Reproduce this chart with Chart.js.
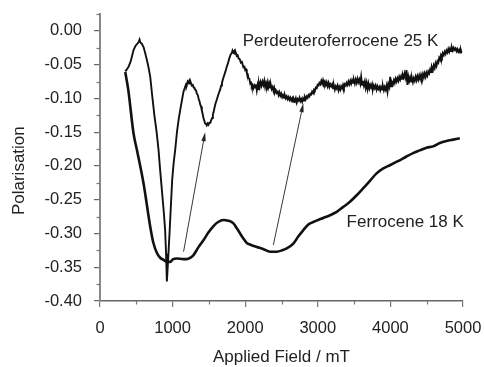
<!DOCTYPE html>
<html>
<head>
<meta charset="utf-8">
<script src="https://cdn.jsdelivr.net/npm/chart.js@4.4.1/dist/chart.umd.min.js"></script>
<style>
  html, body { margin: 0; padding: 0; background: #fff; }
  #wrap { width: 485px; height: 367px; position: relative; }
</style>
</head>
<body>
<div id="wrap"><canvas id="c" width="485" height="367"></canvas></div>
<script>
// Axis tick values
const xTickValues = [0, 1000, 2000, 3000, 4000, 5000];
const yTickValues = [-0.40, -0.35, -0.30, -0.25, -0.20, -0.15, -0.10, -0.05, 0.00];
const xMinorTicks = [500, 1500, 2500, 3500, 4500];
const yMinorTicks = [-0.375, -0.325, -0.275, -0.225, -0.175, -0.125, -0.075, -0.025, 0.025];

// Ferrocene, 18 K (smooth curve)
const ferroField = [348, 389, 462, 508, 600, 692, 733, 784, 829, 875, 922, 967, 1008, 1059, 1146, 1197,
  1242, 1288, 1352, 1425, 1490, 1563, 1627, 1700, 1765, 1838, 1882, 1930, 1971, 2022, 2081, 2160,
  2246, 2343, 2435, 2508, 2572, 2663, 2728, 2801, 2866, 2938, 3003, 3076, 3168, 3260, 3347, 3443,
  3539, 3626, 3718, 3810, 3897, 3993, 4103, 4222, 4313, 4405, 4497, 4588, 4681, 4773, 4864, 4956];
const ferroPolar = [-0.061, -0.087, -0.152, -0.176, -0.226, -0.290, -0.313, -0.329, -0.336, -0.339, -0.342, -0.342, -0.338, -0.337, -0.338, -0.338,
  -0.336, -0.332, -0.321, -0.310, -0.299, -0.289, -0.283, -0.280, -0.281, -0.285, -0.292, -0.300, -0.307, -0.314, -0.317, -0.320,
  -0.323, -0.327, -0.327, -0.325, -0.322, -0.315, -0.305, -0.295, -0.287, -0.283, -0.280, -0.277, -0.273, -0.268, -0.261, -0.253,
  -0.243, -0.233, -0.222, -0.211, -0.204, -0.199, -0.193, -0.186, -0.181, -0.177, -0.173, -0.171, -0.166, -0.163, -0.161, -0.159];

// Perdeuteroferrocene, 25 K (noisy measurement)
const perdField = [348, 370, 394, 420, 440, 463, 490, 515, 535, 545, 555, 575, 600, 623, 650, 670, 692,
  720, 750, 780, 806, 830, 860, 880, 897, 910, 921, 935, 950, 960, 975, 994, 1015, 1036, 1060, 1085,
  1105, 1130, 1150, 1173, 1185, 1195, 1207, 1219, 1230, 1240, 1252, 1265, 1278, 1290, 1300, 1310, 1322,
  1334, 1347, 1360, 1370, 1380, 1392, 1403, 1414, 1425, 1437, 1448, 1460, 1470, 1482, 1494, 1507, 1520,
  1532, 1545, 1555, 1563, 1575, 1590, 1605, 1620, 1637, 1655, 1668, 1680, 1695, 1710, 1728, 1746, 1765,
  1780, 1800, 1815, 1825, 1838, 1850, 1860, 1872, 1884, 1897, 1910, 1925, 1940, 1955, 1975, 1990, 2000,
  2012, 2022, 2035, 2045, 2058, 2070, 2080, 2090, 2100, 2113, 2125, 2135, 2148, 2160, 2170, 2178, 2190,
  2200, 2212, 2225, 2238, 2251, 2263, 2275, 2288, 2300, 2310, 2320, 2332, 2343, 2355, 2365, 2378, 2390,
  2400, 2410, 2422, 2435, 2448, 2460, 2472, 2485, 2497, 2510, 2522, 2535, 2548, 2560, 2572, 2585, 2597,
  2610, 2622, 2635, 2648, 2660, 2672, 2685, 2697, 2710, 2722, 2735, 2748, 2760, 2772, 2785, 2797, 2810,
  2822, 2835, 2848, 2860, 2872, 2885, 2897, 2910, 2922, 2935, 2948, 2960, 2972, 2985, 2997, 3010, 3022,
  3035, 3048, 3060, 3072, 3085, 3097, 3110, 3122, 3135, 3148, 3160, 3172, 3185, 3197, 3210, 3222, 3235,
  3248, 3260, 3272, 3285, 3297, 3310, 3322, 3335, 3348, 3360, 3372, 3385, 3397, 3410, 3422, 3435, 3448,
  3460, 3472, 3485, 3497, 3510, 3522, 3535, 3548, 3560, 3572, 3585, 3597, 3610, 3622, 3635, 3648, 3660,
  3672, 3685, 3697, 3710, 3722, 3735, 3748, 3760, 3772, 3785, 3797, 3810, 3822, 3835, 3848, 3860, 3872,
  3885, 3897, 3910, 3922, 3935, 3948, 3960, 3972, 3985, 3997, 4010, 4022, 4035, 4048, 4060, 4072, 4085,
  4097, 4110, 4122, 4135, 4148, 4160, 4172, 4185, 4197, 4210, 4222, 4235, 4248, 4260, 4272, 4285, 4297,
  4310, 4322, 4335, 4348, 4360, 4372, 4385, 4397, 4410, 4422, 4435, 4448, 4460, 4472, 4485, 4497, 4510,
  4522, 4535, 4548, 4560, 4572, 4585, 4597, 4610, 4622, 4635, 4648, 4660, 4672, 4685, 4697, 4710, 4722,
  4735, 4748, 4760, 4772, 4785, 4797, 4810, 4822, 4835, 4848, 4860, 4872, 4885, 4897, 4910, 4922, 4935,
  4948, 4960, 4972, 4980];
const perdPolar = [-0.060, -0.057, -0.053, -0.046, -0.038, -0.028, -0.022, -0.019, -0.016, -0.013, -0.017, -0.019, -0.024, -0.033, -0.045, -0.055, -0.068,
  -0.097, -0.126, -0.150, -0.176, -0.208, -0.245, -0.270, -0.295, -0.330, -0.371, -0.345, -0.315, -0.295, -0.262, -0.221, -0.195, -0.176, -0.150, -0.130,
  -0.117, -0.102, -0.090, -0.083, -0.079, -0.080, -0.075, -0.077, -0.074, -0.078, -0.077, -0.081, -0.080, -0.084, -0.084, -0.087, -0.088,
  -0.093, -0.095, -0.101, -0.104, -0.109, -0.112, -0.118, -0.123, -0.129, -0.133, -0.137, -0.138, -0.140, -0.137, -0.139, -0.136, -0.136,
  -0.132, -0.129, -0.124, -0.121, -0.115, -0.108, -0.103, -0.098, -0.092, -0.087, -0.081, -0.077, -0.071, -0.066, -0.060, -0.053, -0.047,
  -0.041, -0.035, -0.033, -0.029, -0.032, -0.030, -0.034, -0.033, -0.037, -0.036, -0.041, -0.042, -0.047, -0.046, -0.054, -0.053, -0.058,
  -0.057, -0.062, -0.064, -0.070, -0.071, -0.078, -0.077, -0.082, -0.080, -0.085, -0.081, -0.084, -0.079, -0.088, -0.081, -0.086, -0.078,
  -0.083, -0.076, -0.081, -0.075, -0.080, -0.074, -0.083, -0.077, -0.081, -0.076, -0.083, -0.078, -0.084, -0.081, -0.086, -0.083, -0.089,
  -0.085, -0.091, -0.088, -0.092, -0.090, -0.095, -0.091, -0.096, -0.093, -0.098, -0.095, -0.099, -0.096, -0.100, -0.097, -0.101, -0.098,
  -0.102, -0.099, -0.103, -0.100, -0.105, -0.101, -0.104, -0.100, -0.106, -0.101, -0.103, -0.099, -0.104, -0.101, -0.105, -0.100, -0.103,
  -0.098, -0.101, -0.097, -0.099, -0.095, -0.097, -0.093, -0.094, -0.090, -0.092, -0.087, -0.088, -0.084, -0.085, -0.080, -0.081, -0.077,
  -0.079, -0.074, -0.078, -0.073, -0.078, -0.075, -0.080, -0.076, -0.082, -0.077, -0.083, -0.079, -0.082, -0.079, -0.085, -0.081, -0.087,
  -0.082, -0.085, -0.081, -0.088, -0.083, -0.087, -0.082, -0.085, -0.080, -0.084, -0.079, -0.081, -0.077, -0.080, -0.075, -0.079, -0.074,
  -0.078, -0.073, -0.077, -0.073, -0.078, -0.072, -0.077, -0.071, -0.076, -0.072, -0.078, -0.068, -0.080, -0.074, -0.081, -0.075, -0.084,
  -0.077, -0.086, -0.078, -0.085, -0.080, -0.084, -0.079, -0.086, -0.081, -0.085, -0.081, -0.087, -0.082, -0.086, -0.083, -0.088, -0.083,
  -0.087, -0.082, -0.088, -0.083, -0.087, -0.081, -0.090, -0.079, -0.083, -0.068, -0.082, -0.076, -0.079, -0.073, -0.077, -0.071, -0.075,
  -0.070, -0.074, -0.068, -0.072, -0.067, -0.071, -0.065, -0.069, -0.063, -0.069, -0.058, -0.080, -0.068, -0.074, -0.069, -0.075, -0.070,
  -0.076, -0.070, -0.074, -0.068, -0.073, -0.067, -0.072, -0.066, -0.071, -0.065, -0.070, -0.064, -0.069, -0.063, -0.068, -0.062, -0.066,
  -0.060, -0.063, -0.057, -0.061, -0.054, -0.058, -0.051, -0.055, -0.048, -0.052, -0.045, -0.047, -0.040, -0.043, -0.036, -0.039, -0.033,
  -0.036, -0.031, -0.034, -0.029, -0.032, -0.027, -0.031, -0.026, -0.030, -0.025, -0.029, -0.025, -0.028, -0.026, -0.030, -0.027, -0.031,
  -0.028, -0.032, -0.029, -0.032];

// Arrows linking ferrocene features to the shifted perdeutero features
const arrowFromField = [1151, 2388];
const arrowFromPolar = [-0.327, -0.317];
const arrowToField = [1448, 2801];
const arrowToPolar = [-0.150, -0.107];

// Curve labels
const labelTexts = ['Perdeuteroferrocene 25 K', 'Ferrocene 18 K'];
const labelField = [1966, 3397];
const labelPolar = [-0.016, -0.284];

const FONT = '"Liberation Sans", Arial, sans-serif';
const toXY = (xs, ys) => xs.map((x, i) => ({ x: x, y: ys[i] }));

const decorations = {
  id: 'decorations',
  afterDraw(chart) {
    const { ctx, scales: { x, y }, chartArea } = chart;
    ctx.save();
    // minor tick marks
    ctx.strokeStyle = '#777';
    ctx.lineWidth = 1.2;
    xMinorTicks.forEach(v => {
      const px = Math.round(x.getPixelForValue(v)) + 0.5;
      ctx.beginPath(); ctx.moveTo(px, chartArea.bottom); ctx.lineTo(px, chartArea.bottom + 3.5); ctx.stroke();
    });
    yMinorTicks.forEach(v => {
      const py = Math.round(y.getPixelForValue(v)) + 0.5;
      ctx.beginPath(); ctx.moveTo(chartArea.left, py); ctx.lineTo(chartArea.left - 3.5, py); ctx.stroke();
    });

    // arrows
    ctx.strokeStyle = '#222';
    ctx.fillStyle = '#222';
    ctx.lineWidth = 0.9;
    arrowFromField.forEach((f, i) => {
      const x0 = x.getPixelForValue(f), y0 = y.getPixelForValue(arrowFromPolar[i]);
      const x1 = x.getPixelForValue(arrowToField[i]), y1 = y.getPixelForValue(arrowToPolar[i]);
      const ang = Math.atan2(y1 - y0, x1 - x0);
      const len = 9, half = 2.2;
      const bx = x1 - len * Math.cos(ang), by = y1 - len * Math.sin(ang);
      ctx.beginPath(); ctx.moveTo(x0, y0); ctx.lineTo(bx, by); ctx.stroke();
      ctx.beginPath();
      ctx.moveTo(x1, y1);
      ctx.lineTo(bx + half * Math.sin(ang), by - half * Math.cos(ang));
      ctx.lineTo(bx - half * Math.sin(ang), by + half * Math.cos(ang));
      ctx.closePath(); ctx.fill();
    });

    // curve labels
    ctx.fillStyle = '#222';
    ctx.font = '17px ' + FONT;
    ctx.textAlign = 'left';
    ctx.textBaseline = 'middle';
    labelTexts.forEach((t, i) => {
      ctx.fillText(t, x.getPixelForValue(labelField[i]), y.getPixelForValue(labelPolar[i]));
    });

    // axis titles
    ctx.textAlign = 'center';
    ctx.fillText('Applied Field / mT', (chartArea.left + chartArea.right) / 2, 357);
    ctx.translate(19, y.getPixelForValue(-0.207));
    ctx.rotate(-Math.PI / 2);
    ctx.fillText('Polarisation', 0, 0);
    ctx.restore();
  }
};

new Chart(document.getElementById('c'), {
  type: 'line',
  data: {
    datasets: [
      {
        label: 'Perdeuteroferrocene 25 K',
        data: toXY(perdField, perdPolar),
        borderColor: '#111',
        borderWidth: 1.9,
        pointRadius: 0,
        tension: 0
      },
      {
        label: 'Ferrocene 18 K',
        data: toXY(ferroField, ferroPolar),
        borderColor: '#111',
        borderWidth: 2.6,
        pointRadius: 0,
        cubicInterpolationMode: 'monotone'
      }
    ]
  },
  options: {
    responsive: false,
    animation: false,
    layout: { padding: { left: 0, right: 22, top: 14, bottom: 0 } },
    plugins: { legend: { display: false }, tooltip: { enabled: false } },
    scales: {
      x: {
        type: 'linear',
        min: 0, max: 5000,
        afterFit: s => { s.height = 66; s.paddingLeft = 0; s.paddingRight = 0; },
        afterBuildTicks: s => { s.ticks = xTickValues.map(v => ({ value: v })); },
        border: { display: true, color: '#666', width: 1.5 },
        grid: { drawOnChartArea: false, drawTicks: true, tickLength: 6, color: '#777', lineWidth: 1.2 },
        ticks: {
          padding: 12,
          color: '#222',
          font: { family: FONT, size: 16.5 },
          maxRotation: 0,
          callback: v => String(v)
        }
      },
      y: {
        type: 'linear',
        min: -0.40, max: 0.025,
        afterFit: s => { s.width = 100; s.paddingTop = 0; s.paddingBottom = 0; },
        afterBuildTicks: s => { s.ticks = yTickValues.map(v => ({ value: v })); },
        border: { display: true, color: '#888', width: 2 },
        grid: { drawOnChartArea: false, drawTicks: true, tickLength: 6, color: '#666', lineWidth: 1.2 },
        ticks: {
          padding: 12,
          color: '#222',
          font: { family: FONT, size: 16.5 },
          callback: v => v.toFixed(2)
        }
      }
    }
  },
  plugins: [decorations]
});
</script>
</body>
</html>
